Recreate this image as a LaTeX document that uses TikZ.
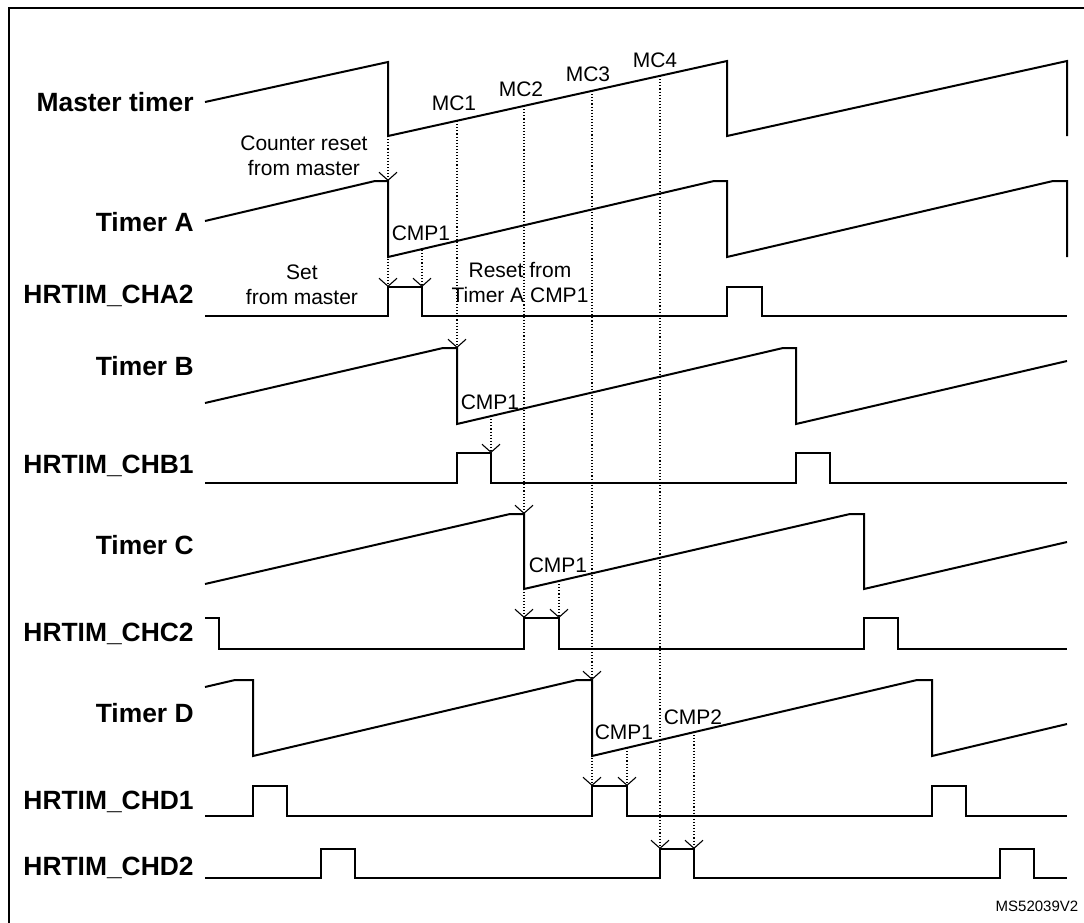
\documentclass[tikz,border=0pt]{standalone}
\usepackage{fontspec}
\setmainfont{Liberation Sans}
\usetikzlibrary{arrows.meta}
\tikzset{
    signame/.style = {anchor=east, inner sep=1pt, font=\fontsize{13.2}{15}\selectfont\bfseries},
    note/.style = {align=center, inner sep=1pt, font=\fontsize{10.5}{12.5}\selectfont},
    wave/.style = {line width=1pt},
    pulse/.style = {line width=1.4pt},
    trig/.style = {densely dotted, line width=0.55pt, -{Straight Barb[length=4pt,width=9pt]}},
}

\begin{document}
\begin{tikzpicture}[x=0.5pt, y=-0.5pt]
\useasboundingbox (0,0) rectangle (1084,923);
\draw[line width=1pt] (9,923) -- (9,8) -- (1084,8);

% signal names
\node[signame] (nmaster) at (196,102) {Master timer};
\node[signame] (ntima) at (196,222) {Timer A};
\node[signame] (ncha2) at (196,296) {HRTIM\_CHA2};
\node[signame] (ntimb) at (196,366) {Timer B};
\node[signame] (nchb1) at (196,466) {HRTIM\_CHB1};
\node[signame] (ntimc) at (196,545) {Timer C};
\node[signame] (nchc2) at (196,634) {HRTIM\_CHC2};
\node[signame] (ntimd) at (196,713) {Timer D};
\node[signame] (nchd1) at (196,802) {HRTIM\_CHD1};
\node[signame] (nchd2) at (196,868) {HRTIM\_CHD2};

% counters
\draw[wave] (205,102) -- (388,62) -- (388,136) -- (727,61) -- (727,136) -- (1067,61) -- (1067,136);
\draw[wave] (205,221) -- (375,181) -- (388,181) -- (388,257) -- (714,181) -- (727,181) -- (727,257) -- (1053,181) -- (1067,181) -- (1067,257);
\draw[wave] (205,403) -- (443,348) -- (457,348) -- (457,424) -- (783,348) -- (796,348) -- (796,424) -- (1067,361);
\draw[wave] (205,584) -- (510,514) -- (524,514) -- (524,589) -- (850,514) -- (864,514) -- (864,589) -- (1067,542);
\draw[wave] (205,687) -- (235,680) -- (253,680) -- (253,756) -- (577,680) -- (592,680) -- (592,756) -- (917,680) -- (932,680) -- (932,756) -- (1067,724);

% outputs
\draw[pulse] (205,316) -- (388,316) -- (388,287) -- (422,287) -- (422,316) -- (727,316) -- (727,287) -- (762,287) -- (762,316) -- (1067,316);
\draw[pulse] (205,483) -- (457,483) -- (457,453) -- (491,453) -- (491,483) -- (796,483) -- (796,453) -- (830,453) -- (830,483) -- (1067,483);
\draw[pulse] (205,618) -- (219,618) -- (219,649) -- (524,649) -- (524,618) -- (559,618) -- (559,649) -- (864,649) -- (864,618) -- (898,618) -- (898,649) -- (1067,649);
\draw[pulse] (205,816) -- (253,816) -- (253,786) -- (287,786) -- (287,816) -- (592,816) -- (592,786) -- (627,786) -- (627,816) -- (932,816) -- (932,786) -- (966,786) -- (966,816) -- (1067,816);
\draw[pulse] (205,878) -- (321,878) -- (321,849) -- (355,849) -- (355,878) -- (660,878) -- (660,849) -- (694,849) -- (694,878) -- (1000,878) -- (1000,849) -- (1034,849) -- (1034,878) -- (1067,878);

% events
\draw[trig] (388,136) -- (388,181);
\draw[trig] (388,181) -- (388,287);
\draw[trig] (422,250) -- (422,287);
\draw[trig] (457,121) -- (457,348);
\draw[trig] (491,416) -- (491,453);
\draw[trig] (524,106) -- (524,514);
\draw[trig] (524,514) -- (524,618);
\draw[trig] (559,581) -- (559,618);
\draw[trig] (592,91) -- (592,680);
\draw[trig] (592,680) -- (592,786);
\draw[trig] (627,748) -- (627,786);
\draw[trig] (660,76) -- (660,849);
\draw[trig] (694,732) -- (694,849);

% annotations
\node[note] (mc1) at (454,103) {MC1};
\node[note] (mc2) at (521,89) {MC2};
\node[note] (mc3) at (588,74) {MC3};
\node[note] (mc4) at (655,60) {MC4};
\node[note] (cntrst) at (304,156) {Counter reset\\from master};
\node[note] (setm) at (302,285) {Set\\from master};
\node[note] (rsta) at (520,282) {Reset from\\Timer A CMP1};
\node[note] (cmpa) at (421,233) {CMP1};
\node[note] (cmpb) at (490,402) {CMP1};
\node[note] (cmpc) at (558,565) {CMP1};
\node[note] (cmpd1) at (624,732) {CMP1};
\node[note] (cmpd2) at (693,717) {CMP2};
\node[font=\fontsize{7.5}{9}\selectfont] (ref) at (1037,906) {MS52039V2};
\end{tikzpicture}
\end{document}
